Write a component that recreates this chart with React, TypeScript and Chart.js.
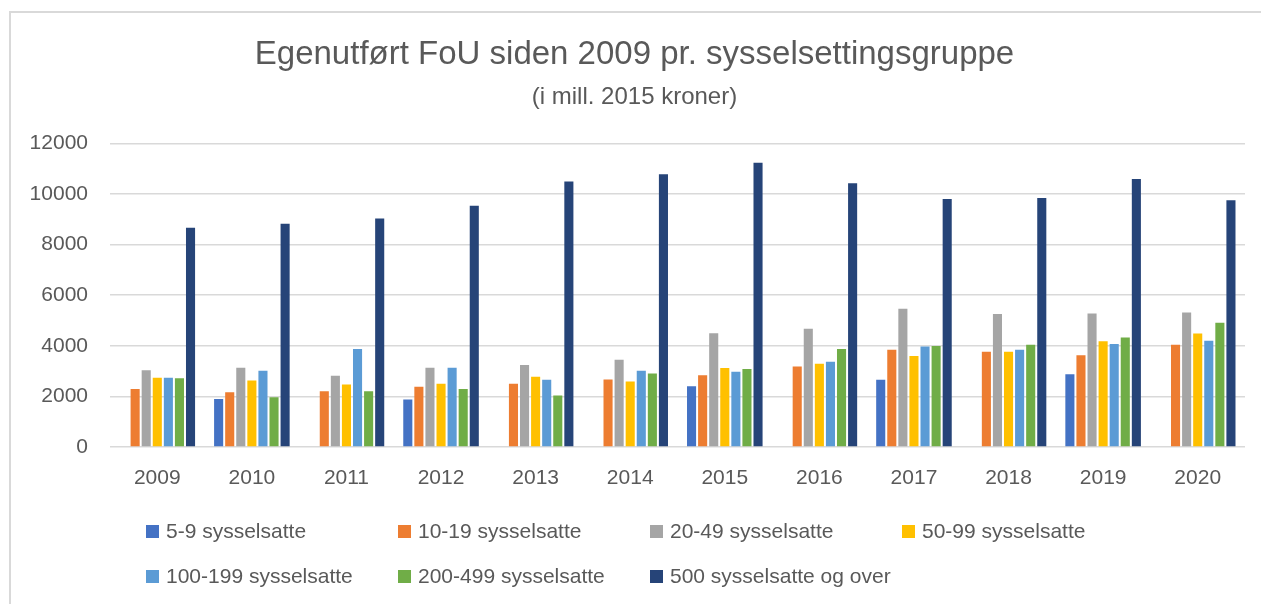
import React, { useEffect, useRef } from "react";
import { Chart, registerables } from "chart.js";

Chart.register(...registerables);

const years = ["2009", "2010", "2011", "2012", "2013", "2014", "2015", "2016", "2017", "2018", "2019", "2020"];

const s5to9 = [null, 1900, null, 1880, null, null, 2400, null, 2660, null, 2880, null];
const s10to19 = [2290, 2160, 2200, 2380, 2500, 2670, 2840, 3180, 3840, 3760, 3630, 4040];
const s20to49 = [3030, 3130, 2820, 3130, 3240, 3450, 4500, 4670, 5460, 5260, 5280, 5320];
const s50to99 = [2740, 2630, 2470, 2500, 2780, 2590, 3120, 3290, 3600, 3760, 4180, 4490];
const s100to199 = [2740, 3010, 3870, 3130, 2660, 3010, 2970, 3370, 3970, 3840, 4070, 4200];
const s200to499 = [2720, 1970, 2200, 2290, 2040, 2910, 3080, 3870, 3990, 4040, 4330, 4910];
const s500plus = [8670, 8820, 9030, 9540, 10490, 10780, 11240, 10420, 9800, 9840, 10590, 9750];

const seriesLabels = [
  "5-9 sysselsatte",
  "10-19 sysselsatte",
  "20-49 sysselsatte",
  "50-99 sysselsatte",
  "100-199 sysselsatte",
  "200-499 sysselsatte",
  "500 sysselsatte og over",
];
const seriesColors = ["#4472C4", "#ED7D31", "#A5A5A5", "#FFC000", "#5B9BD5", "#70AD47", "#264478"];
const seriesValues = [s5to9, s10to19, s20to49, s50to99, s100to199, s200to499, s500plus];

const yTicks = [0, 2000, 4000, 6000, 8000, 10000, 12000];

const FONT = "'Liberation Sans', Arial, sans-serif";
const TEXT = "#595959";

const framePlugin = {
  id: "frame",
  beforeDraw(chart: any) {
    const ctx = chart.ctx;
    ctx.save();
    ctx.fillStyle = "#ffffff";
    ctx.fillRect(0, 0, chart.width, chart.height);
    ctx.strokeStyle = "#d9d9d9";
    ctx.lineWidth = 2;
    ctx.strokeRect(10, 12, chart.width + 100, chart.height + 100);
    ctx.restore();
  },
};

const legendPlugin = {
  id: "gridLegend",
  afterDraw(chart: any) {
    const ctx = chart.ctx;
    const left = 146;
    const colW = 252;
    const rowTop = 531.5;
    const rowH = 45;
    const perRow = 4;
    const box = 13;
    ctx.save();
    ctx.font = `21px ${FONT}`;
    ctx.textBaseline = "middle";
    ctx.textAlign = "left";
    chart.data.datasets.forEach((ds: any, i: number) => {
      const col = i % perRow;
      const row = Math.floor(i / perRow);
      const x = left + col * colW;
      const y = rowTop + row * rowH;
      ctx.fillStyle = ds.backgroundColor;
      ctx.fillRect(x, y - box / 2, box, box);
      ctx.fillStyle = TEXT;
      ctx.fillText(ds.label, x + 20, y + 1);
    });
    ctx.restore();
  },
};

export default function App() {
  const ref = useRef<HTMLCanvasElement>(null);

  useEffect(() => {
    if (!ref.current) return;
    Chart.defaults.font.family = FONT;
    const chart = new Chart(ref.current, {
      type: "bar",
      data: {
        labels: years,
        datasets: seriesLabels.map((label, i) => ({
          label,
          data: seriesValues[i] as any,
          backgroundColor: seriesColors[i],
          borderWidth: 0,
          categoryPercentage: 0.82,
          barPercentage: 0.82,
        })),
      },
      options: {
        responsive: false,
        animation: false,
        layout: { padding: { left: 24, right: 16, top: 12, bottom: 100 } },
        plugins: {
          legend: { display: false },
          tooltip: { enabled: false },
          title: {
            display: true,
            text: "Egenutført FoU siden 2009 pr. sysselsettingsgruppe",
            color: TEXT,
            font: { size: 33, weight: "normal", family: FONT, lineHeight: 1.2 },
            padding: { top: 23, bottom: 8 },
          },
          subtitle: {
            display: true,
            text: "(i mill. 2015 kroner)",
            color: TEXT,
            font: { size: 24, weight: "normal", family: FONT, lineHeight: 1.2 },
            padding: { top: 0, bottom: 32 },
          },
        },
        scales: {
          x: {
            grid: { display: false, drawTicks: false },
            border: { display: false },
            ticks: { color: TEXT, font: { size: 21, family: FONT }, padding: 19, maxRotation: 0 },
            afterFit: (scale: any) => {
              scale.height = 57;
            },
          },
          y: {
            min: yTicks[0],
            max: yTicks[yTicks.length - 1],
            afterBuildTicks: (scale: any) => {
              scale.ticks = yTicks.map((v) => ({ value: v }));
            },
            grid: { color: "#d9d9d9", lineWidth: 1.5, drawTicks: false },
            border: { display: false },
            ticks: {
              color: TEXT,
              font: { size: 21, family: FONT },
              padding: 22,
              callback: (v: any) => String(v),
            },
            afterFit: (scale: any) => {
              scale.width = 86;
            },
          },
        },
      },
      plugins: [framePlugin, legendPlugin],
    });
    return () => chart.destroy();
  }, []);

  return (
    <div style={{ position: "absolute", left: 0, top: 0, width: 1261, height: 604 }}>
      <canvas ref={ref} width={1261} height={604} />
    </div>
  );
}
